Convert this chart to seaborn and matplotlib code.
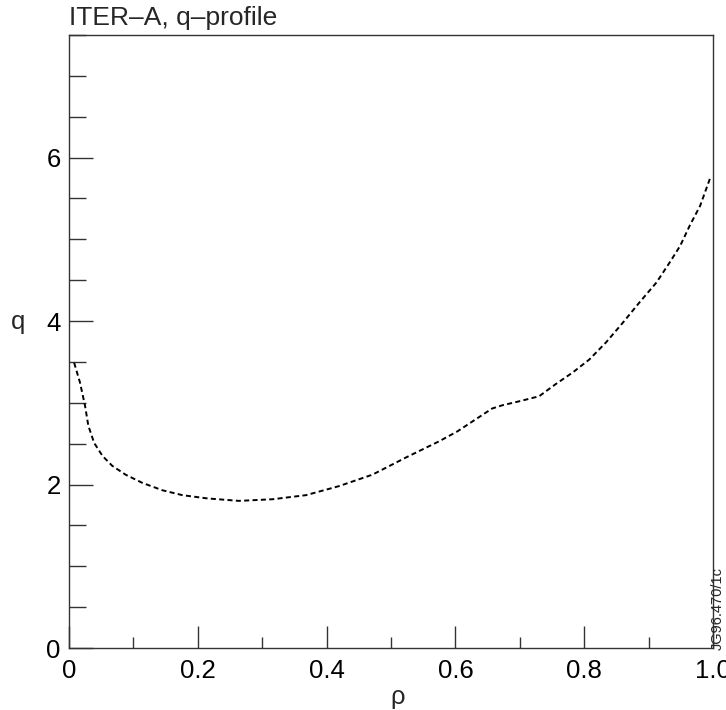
import matplotlib
matplotlib.use("Agg")
import matplotlib.pyplot as plt
import seaborn as sns
import pandas as pd
from matplotlib.ticker import MultipleLocator

rho = [0.008, 0.017, 0.025, 0.030, 0.039, 0.052, 0.067, 0.088, 0.114, 0.145,
       0.176, 0.215, 0.264, 0.316, 0.368, 0.419, 0.471, 0.523, 0.575, 0.603,
       0.630, 0.657, 0.673, 0.700, 0.730, 0.756, 0.782, 0.808, 0.834, 0.860,
       0.886, 0.912, 0.933, 0.949, 0.964, 0.980, 0.996]
q = [3.49, 3.25, 2.96, 2.72, 2.51, 2.35, 2.23, 2.12, 2.02, 1.93,
     1.87, 1.83, 1.80, 1.82, 1.87, 1.98, 2.12, 2.33, 2.53, 2.65,
     2.79, 2.93, 2.97, 3.02, 3.08, 3.23, 3.37, 3.53, 3.74, 3.98,
     4.23, 4.47, 4.72, 4.92, 5.17, 5.41, 5.76]

title = "ITER\u2013A, q\u2013profile"
xlabel = "\u03c1"
ylabel = "q"
tag = "JG96.470/1c"
xticks = [0, 0.2, 0.4, 0.6, 0.8, 1.0]
xticklabels = ["0", "0.2", "0.4", "0.6", "0.8", "1.0"]
yticks = [0, 2, 4, 6]
yticklabels = ["0", "2", "4", "6"]

df = pd.DataFrame({"rho": rho, "q": q})

sns.set_theme(style="white")
plt.rcParams['font.family'] = ['Liberation Sans', 'DejaVu Sans']

fig = plt.figure(figsize=(7.26, 7.10), dpi=100)
ax = fig.add_axes([69/726, (710-648)/710, (713-69)/726, (648-35)/710])

sns.lineplot(data=df, x="rho", y="q", ax=ax, color="black", linewidth=1.4,
             linestyle=(0, (2.6, 1.7)), sort=False, estimator=None)

ax.set_xlim(0, 1.0)
ax.set_ylim(0, 7.5)
ax.set_xticks(xticks)
ax.set_xticklabels(xticklabels)
ax.set_yticks(yticks)
ax.set_yticklabels(yticklabels)
ax.xaxis.set_minor_locator(MultipleLocator(0.1))
ax.yaxis.set_minor_locator(MultipleLocator(0.5))

ax.tick_params(axis="both", which="both", direction="in", colors="#333333",
               labelcolor="black", labelsize=18.5, width=1.0,
               top=False, right=False, left=True, bottom=True)
ax.tick_params(axis="x", which="major", length=16, pad=8)
ax.tick_params(axis="x", which="minor", length=8)
ax.tick_params(axis="y", which="major", length=17, pad=6)
ax.tick_params(axis="y", which="minor", length=12)

for s in ax.spines.values():
    s.set_color("#333333")
    s.set_linewidth(1.0)
    s.set_visible(True)

ax.set_xlabel(xlabel, fontsize=18.5, va="center")
ax.xaxis.set_label_coords((398-69)/644, (648-697)/613)
ax.set_ylabel(ylabel, fontsize=18.5, rotation=0, ha="center", va="center")
ax.yaxis.set_label_coords((18-69)/644, (648-322)/613)

ax.set_title(title, loc="left", fontsize=19, pad=7)
fig.text(718/726, (710-650)/710, tag, rotation=90, fontsize=10.5,
         ha="center", va="bottom")

fig.savefig("out.png", dpi=100, facecolor="white")
